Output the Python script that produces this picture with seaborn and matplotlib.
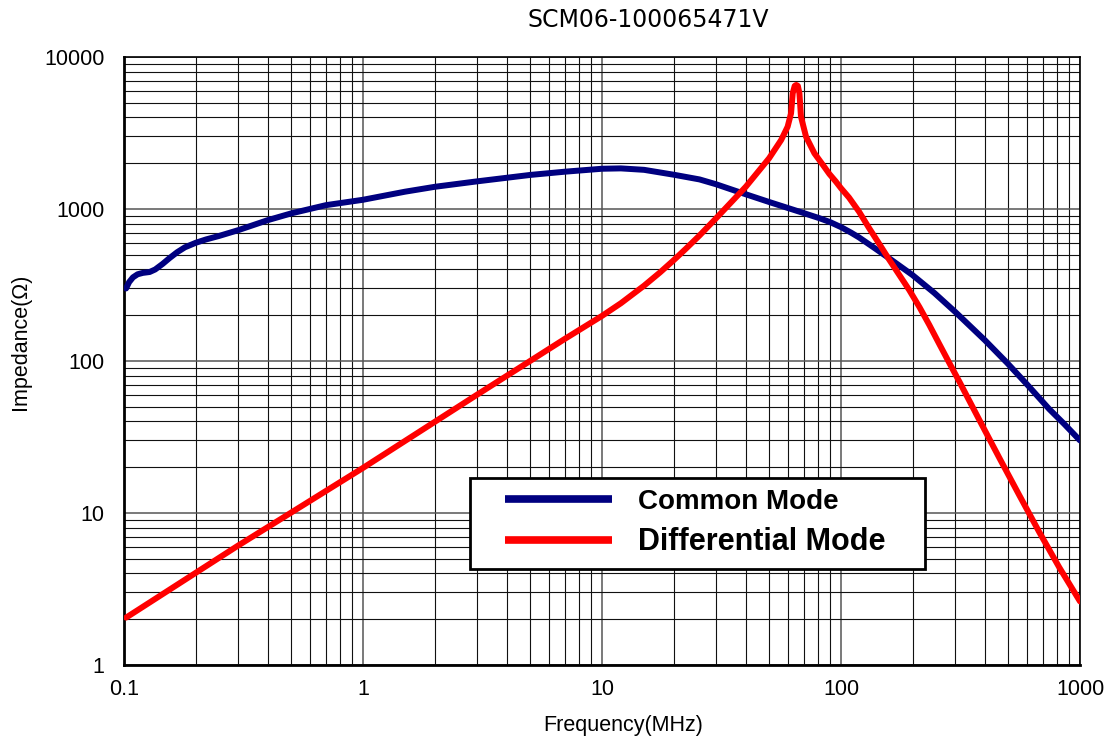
#import libraries
import numpy as np
import pandas as pd
import matplotlib
matplotlib.use("Agg")
import matplotlib.pyplot as plt
import seaborn as sns
from matplotlib.ticker import LogLocator, NullFormatter, FixedLocator, FixedFormatter
from matplotlib.patches import Rectangle

#data (frequency in MHz, impedance in ohm)
cm_freq = [0.102, 0.105, 0.109, 0.114, 0.12, 0.128, 0.135, 0.145, 0.155, 0.167, 0.18,
           0.2, 0.22, 0.25, 0.3, 0.4, 0.5, 0.7, 1, 1.5, 2, 3, 5, 7, 10, 12, 15,
           20, 25.6, 30, 37.6, 50.2, 67, 81.2, 90, 100, 110, 119, 138, 159, 199, 246, 300, 400,
           496, 601, 743, 859, 1000]
cm_z = [300, 330, 355, 372, 380, 385, 400, 435, 475, 520, 560,
        600, 630, 665, 725, 845, 935, 1060, 1150, 1300, 1400, 1520, 1675, 1760, 1840, 1850, 1810,
        1680, 1565, 1455, 1290, 1110, 960, 870, 820, 760, 700, 650, 554, 474, 368, 280, 211, 137,
        97, 70, 48.3, 38.5, 30]

dm_freq = [0.102, 0.3, 1, 3, 5, 7, 10, 12, 15, 17.5, 20, 22.5, 25.6, 30, 40, 50, 56.2, 59.8,
           61.8, 62.8, 64, 65, 66, 67, 68, 71.4, 77.4, 85, 89.4, 95, 100, 108, 119, 131,
           145, 159, 175, 193, 213, 234, 258, 284, 313, 379, 460, 557, 675, 818, 1000]
dm_z = [2.05, 6.1, 19.8, 60, 100, 140, 198, 240, 313, 383, 462, 550, 670, 868, 1403, 2155, 2845, 3480,
        4260, 5770, 6450, 6550, 6450, 5770, 4050, 2990, 2325, 1900, 1700, 1520, 1370, 1190, 960, 750,
        585, 465, 370, 293, 226, 173, 129, 97, 73, 41, 23, 13.1, 7.5, 4.4, 2.62]

x_ticks = [0.1, 1, 10, 100, 1000]
x_ticklabels = ["0.1", "1", "10", "100", "1000"]
y_ticks = [1, 10, 100, 1000, 10000]
y_ticklabels = ["1", "10", "100", "1000", "10000"]

series_names = ["Common Mode", "Differential Mode"]
series_colors = ["#000080", "#ff0000"]

df = pd.concat([
    pd.DataFrame({"freq": cm_freq, "z": cm_z, "mode": series_names[0]}),
    pd.DataFrame({"freq": dm_freq, "z": dm_z, "mode": series_names[1]}),
])

sns.set_style("white")
plt.rcParams["font.family"] = ["Liberation Sans", "DejaVu Sans"]
plt.rcParams["text.color"] = "black"
plt.rcParams["axes.labelcolor"] = "black"

fig = plt.figure(figsize=(11.1, 7.42), dpi=100)
ax = fig.add_axes([124 / 1110, 1 - 665 / 742, 956 / 1110, 608 / 742])

sns.lineplot(data=df, x="freq", y="z", hue="mode", palette=series_colors,
             hue_order=series_names, linewidth=4.3, ax=ax, zorder=3, sort=False)

ax.set_xscale("log")
ax.set_yscale("log")
ax.set_xlim(0.1, 1000)
ax.set_ylim(1, 10000)

#ticks and grid
ax.xaxis.set_major_locator(FixedLocator(x_ticks))
ax.xaxis.set_major_formatter(FixedFormatter(x_ticklabels))
ax.yaxis.set_major_locator(FixedLocator(y_ticks))
ax.yaxis.set_major_formatter(FixedFormatter(y_ticklabels))
ax.xaxis.set_minor_locator(LogLocator(base=10, subs=range(2, 10), numticks=20))
ax.yaxis.set_minor_locator(LogLocator(base=10, subs=range(2, 10), numticks=20))
ax.xaxis.set_minor_formatter(NullFormatter())
ax.yaxis.set_minor_formatter(NullFormatter())

ax.grid(True, which="major", color="#555555", linewidth=1.1)
ax.grid(True, which="minor", color="#111111", linewidth=0.8)
ax.tick_params(axis="both", which="major", direction="in", length=5, width=1.5,
               labelsize=15.5, colors="black")
ax.tick_params(axis="both", which="minor", direction="in", length=3, width=1.2)
ax.tick_params(axis="x", which="major", pad=10)
ax.tick_params(axis="y", which="major", pad=14)

for side, s in ax.spines.items():
    s.set_color("black")
    s.set_linewidth(2 if side in ("left", "bottom") else 1.2)

ax.set_xlabel("Frequency(MHz)", fontsize=15.5)
ax.set_ylabel("Impedance(Ω)", fontsize=15.5)
ax.xaxis.set_label_coords((623 - 124) / 956, -0.083)
ax.yaxis.set_label_coords(-0.097, 0.531)

fig.text(648 / 1110, 1 - 20 / 742, "SCM06-100065471V", ha="center", va="center",
         fontsize=17, family="DejaVu Sans", color="black")

#legend box
ax.add_patch(Rectangle((346 / 956, 96 / 608), 455 / 956, 91 / 608, transform=ax.transAxes,
                       facecolor="white", edgecolor="black", linewidth=2, zorder=4.9))
leg = ax.legend(loc="upper left", bbox_to_anchor=((505 - 124) / 956, (665 - 489) / 608),
                frameon=False, borderpad=0, borderaxespad=0, handlelength=3.85,
                handletextpad=0.95, labelspacing=0.42,
                prop={"weight": "bold", "size": 20})
leg.set_zorder(5)
for line in leg.get_lines():
    line.set_linewidth(5.5)
    line.set_solid_capstyle("butt")
for t in leg.get_texts():
    t.set_color("black")
leg.get_texts()[1].set_fontsize(22)

plt.savefig("out.png", dpi=100)
